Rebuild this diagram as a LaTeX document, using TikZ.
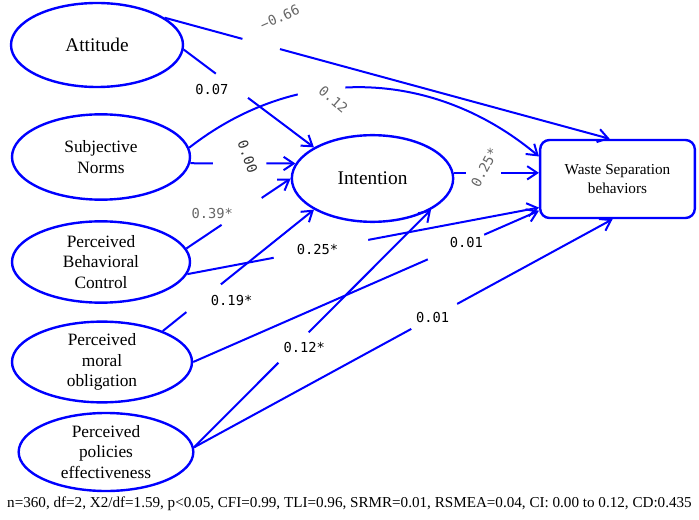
\documentclass[tikz,border=0pt]{standalone}
\usepackage{fontspec}
\setmainfont{Liberation Serif}
\newfontfamily\coeffont{DejaVu Sans Mono}
\usetikzlibrary{shapes.geometric, arrows.meta}

\begin{document}
\begin{tikzpicture}[x=0.75pt, y=-0.75pt,
    latent/.style={ellipse, draw=blue, line width=1.8pt, inner sep=0pt, align=center, font=\fontsize{13}{15.5}\selectfont},
    observed/.style={rectangle, rounded corners=7pt, draw=blue, line width=1.8pt, inner sep=0pt, align=center, font=\fontsize{11.4}{13.6}\selectfont},
    effect/.style={draw=blue, line width=1.5pt, -{Straight Barb[length=7.5pt, width=10pt]}},
    gap/.style={fill=white, sloped, inner sep=0pt, minimum height=4pt, minimum width=#1},
    coef/.style={inner sep=0pt, font=\coeffont\fontsize{10.3}{12}\selectfont},
    coefgray/.style={coef, text=black!60}]
    \useasboundingbox (0,0) rectangle (699,520);

    \node[latent, minimum width=129pt, minimum height=63pt, font=\fontsize{14.5}{17}\selectfont] (att) at (97,45) {Attitude};
    \node[latent, minimum width=133.5pt, minimum height=64pt] (sn) at (101,157) {Subjective\\Norms};
    \node[latent, minimum width=133.5pt, minimum height=61pt] (pbc) at (101,262) {Perceived\\Behavioral\\Control};
    \node[latent, minimum width=135pt, minimum height=60pt] (pmo) at (102,362) {Perceived\\moral\\obligation};
    \node[latent, minimum width=131pt, minimum height=58.5pt] (ppe) at (106,452) {Perceived\\policies\\effectiveness};
    \node[latent, minimum width=121pt, minimum height=65pt, font=\fontsize{14.5}{17}\selectfont] (int) at (372.5,178.5) {Intention};
    \node[observed, minimum width=116pt, minimum height=58.5pt] (wsb) at (617.5,179) {Waste Separation\\behaviors};

    \draw[effect] (att.-3) -- node[gap=30pt, pos=.37]{} node[coef, pos=.37, xshift=-15pt, yshift=-3pt]{0.07} (int.152);
    \draw[effect] (att.22) -- node[gap=29pt, pos=.217]{} node[coefgray, pos=.217, xshift=14pt, yshift=20pt, rotate=24]{−0.66} (wsb.101);
    \draw[effect] (sn.6) to[out=38, in=140] node[gap=36pt, pos=.38]{} node[coefgray, pos=.38, xshift=9pt, yshift=-7pt, rotate=-41]{0.12} (wsb.164);
    \draw[effect] (sn.-4) -- node[gap=40pt, pos=.47]{} node[coef, pos=.47, xshift=6pt, yshift=5pt, rotate=-70, text=black!80]{0.00} (int.169);
    \draw[effect] (pbc.9) -- node[gap=36pt, pos=.53]{} node[coefgray, pos=.53, xshift=-22pt, yshift=-1.5pt]{0.39*} (int.west);
    \draw[effect] (pbc.-8) -- node[gap=72pt, pos=.38]{} node[coef, pos=.37]{0.25*} (wsb.200);
    \draw[effect] (pmo.27) -- node[gap=33pt, pos=.27]{} node[coef, pos=.27, xshift=21pt, yshift=-1.5pt]{0.19*} (int.208);
    \draw[effect] (pmo.east) -- node[gap=46pt, pos=.76]{} node[coef, pos=.79]{0.01} (wsb.202);
    \draw[effect] (ppe.3) -- node[gap=39pt, pos=.574]{} node[coef, pos=.57]{0.01} (wsb.263);
    \draw[effect] (ppe.3) -- node[gap=32pt, pos=.42]{} node[coef, pos=.42, xshift=8pt]{0.12*} (int.-28);
    \draw[effect] (int.4) -- node[gap=26pt, pos=.35]{} node[coefgray, pos=.36, yshift=4pt, rotate=62]{0.25*} (int.4 -| wsb.west);

    \node[anchor=base, font=\fontsize{11.35}{13}\selectfont] (fitnote) at (349.5,507.5) {n=360, df=2, X2/df=1.59, p<0.05, CFI=0.99, TLI=0.96, SRMR=0.01, RSMEA=0.04, CI: 0.00 to 0.12, CD:0.435};
\end{tikzpicture}
\end{document}
